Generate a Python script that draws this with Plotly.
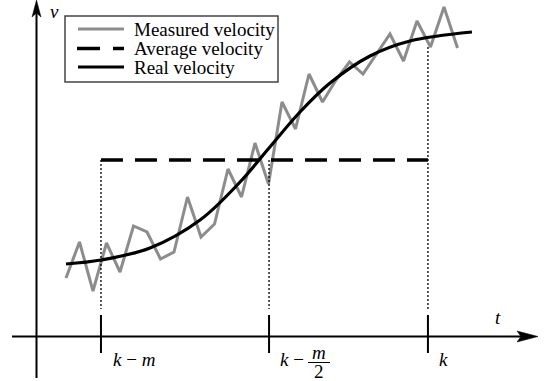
import plotly.graph_objects as go

# ---------------- data ----------------
# measured velocity samples (sample index t, velocity v)
meas_t = list(range(30))
meas_v = [5.8, 9.4, 4.5, 9.3, 6.4, 11.0, 10.4, 7.7, 8.4, 13.9,
          9.9, 11.2, 16.7, 13.9, 19.3, 15.2, 23.4, 20.7, 26.2, 23.4,
          25.6, 27.4, 26.2, 28.2, 30.2, 27.5, 31.5, 28.9, 32.9, 28.8]

# real velocity (smooth curve, read points)
real_t = [0.0, 2.59, 6.22, 9.93, 12.89, 15.04, 17.33, 19.56, 22.52, 25.48, 30.07]
real_v = [7.2, 7.6, 8.8, 11.6, 15.4, 18.8, 22.4, 25.3, 28.0, 29.5, 30.4]

# window positions on the t axis and average velocity
tick_t = [2.59, 15.04, 26.81]      # k-m, k-m/2, k
avg_v = 17.6
dot_top_v = [17.6, 17.6, 28.9]
dot_bottom_v = 2.7

W, H = 544, 381
X0, DX = 66.0, 13.5      # pixel of t=0, pixels per sample
Y0, DY = 336.0, 10.0     # pixel of v=0, pixels per unit


def px(x):
    return x / W


def py(y):
    return 1 - y / H


fig = go.Figure()

serif = "Times New Roman"
GRAY = "#8c8c8c"

# measured
fig.add_trace(go.Scatter(x=meas_t, y=meas_v, mode="lines",
                         line=dict(color=GRAY, width=3), hoverinfo="skip"))
# average (dashed)
fig.add_trace(go.Scatter(x=[tick_t[0], tick_t[2]], y=[avg_v, avg_v], mode="lines",
                         line=dict(color="black", width=3.5, dash="22px,12px"),
                         hoverinfo="skip"))
# real
fig.add_trace(go.Scatter(x=real_t, y=real_v, mode="lines",
                         line=dict(color="black", width=3.2, shape="spline", smoothing=1.0),
                         hoverinfo="skip"))
# dotted verticals
for t, top in zip(tick_t, dot_top_v):
    fig.add_trace(go.Scatter(x=[t, t], y=[top, dot_bottom_v], mode="lines",
                             line=dict(color="black", width=1.3, dash="2px,2px"),
                             hoverinfo="skip"))

shapes = []
# x axis
shapes.append(dict(type="line", xref="paper", yref="paper",
                   x0=px(12), x1=px(522), y0=py(336.5), y1=py(336.5),
                   line=dict(color="black", width=2)))
shapes.append(dict(type="path", xref="paper", yref="paper",
                   path=f"M {px(517)} {py(331)} L {px(538)} {py(336.5)} L {px(517)} {py(342)} L {px(521)} {py(336.5)} Z",
                   fillcolor="black", line=dict(color="black", width=0.5)))
# y axis
shapes.append(dict(type="line", xref="paper", yref="paper",
                   x0=px(36.5), x1=px(36.5), y0=py(378), y1=py(12),
                   line=dict(color="black", width=2)))
shapes.append(dict(type="path", xref="paper", yref="paper",
                   path=f"M {px(32)} {py(17)} L {px(36.5)} {py(0)} L {px(41)} {py(17)} L {px(36.5)} {py(13)} Z",
                   fillcolor="black", line=dict(color="black", width=0.5)))
# ticks
for t in tick_t:
    xp = X0 + DX * t
    shapes.append(dict(type="line", xref="paper", yref="paper",
                       x0=px(xp), x1=px(xp), y0=py(315), y1=py(353),
                       line=dict(color="black", width=2)))
# fraction bar
shapes.append(dict(type="line", xref="paper", yref="paper",
                   x0=px(308), x1=px(330), y0=py(362.5), y1=py(362.5),
                   line=dict(color="black", width=1)))

# legend box
shapes.append(dict(type="rect", xref="paper", yref="paper",
                   x0=px(65), x1=px(278), y0=py(16), y1=py(82),
                   line=dict(color="#444444", width=1.5), fillcolor="white"))
leg_y = [29, 48.5, 67]
shapes.append(dict(type="line", xref="paper", yref="paper",
                   x0=px(78), x1=px(124), y0=py(leg_y[0]), y1=py(leg_y[0]),
                   line=dict(color=GRAY, width=3)))
shapes.append(dict(type="line", xref="paper", yref="paper",
                   x0=px(77), x1=px(100), y0=py(leg_y[1]), y1=py(leg_y[1]),
                   line=dict(color="black", width=3.5)))
shapes.append(dict(type="line", xref="paper", yref="paper",
                   x0=px(113), x1=px(124), y0=py(leg_y[1]), y1=py(leg_y[1]),
                   line=dict(color="black", width=3.5)))
shapes.append(dict(type="line", xref="paper", yref="paper",
                   x0=px(78), x1=px(124), y0=py(leg_y[2]), y1=py(leg_y[2]),
                   line=dict(color="black", width=3)))

legend_labels = ["Measured velocity", "Average velocity", "Real velocity"]
annotations = []
for lab, yy in zip(legend_labels, leg_y):
    annotations.append(dict(text=lab, xref="paper", yref="paper",
                            x=px(132), y=py(yy), xanchor="left", yanchor="middle",
                            showarrow=False, font=dict(family=serif, size=19, color="black")))


def txt(s, x, y, xa="left", size=19):
    annotations.append(dict(text=s, xref="paper", yref="paper", x=px(x), y=py(y),
                            xanchor=xa, yanchor="middle", showarrow=False,
                            font=dict(family=serif, size=size, color="black")))


txt("<i>v</i>", 48, 12)
txt("<i>t</i>", 493, 317)
txt("<i>k</i> − <i>m</i>", 111, 359)
txt("<i>k</i> −", 278, 359)
txt("<i>m</i>", 319, 352, xa="center")
txt("2", 319, 371, xa="center")
txt("<i>k</i>", 437, 359)

fig.update_layout(
    width=W, height=H,
    margin=dict(l=0, r=0, t=0, b=0),
    paper_bgcolor="white", plot_bgcolor="white",
    showlegend=False,
    xaxis=dict(range=[-X0 / DX, (W - X0) / DX], visible=False, fixedrange=True),
    yaxis=dict(range=[(Y0 - H) / DY, Y0 / DY], visible=False, fixedrange=True),
    shapes=shapes, annotations=annotations,
)

fig.write_html("out.html")
